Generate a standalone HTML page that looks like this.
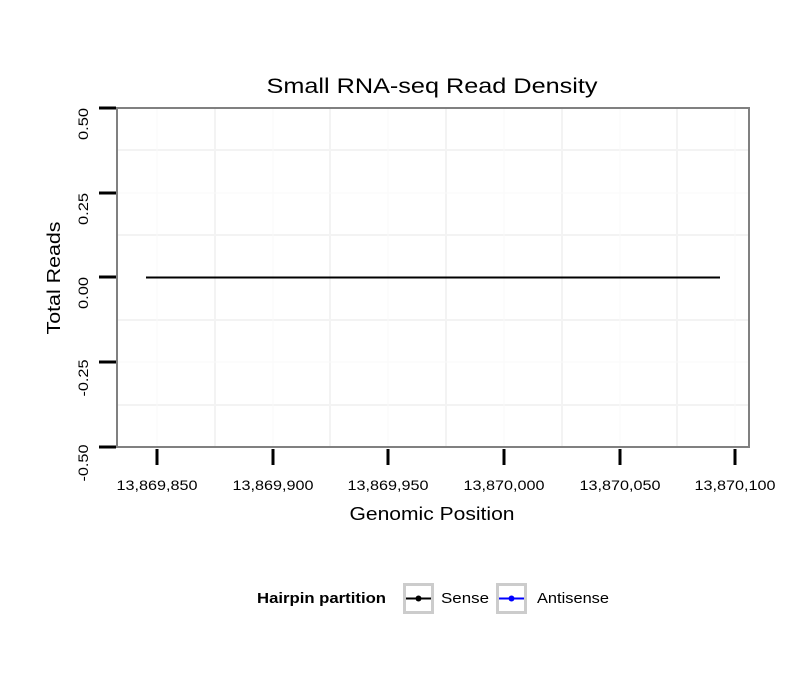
<!DOCTYPE html>
<html><head><style>body{margin:0;background:#fff}</style></head><body>
<svg width="810" height="690" xmlns="http://www.w3.org/2000/svg" font-family="Liberation Sans, sans-serif">
<rect width="810" height="690" fill="#fff"/>
<g stroke="#f3f3f3" stroke-width="2">
<line x1="215" y1="108" x2="215" y2="447"/><line x1="330" y1="108" x2="330" y2="447"/><line x1="446" y1="108" x2="446" y2="447"/><line x1="562" y1="108" x2="562" y2="447"/><line x1="677" y1="108" x2="677" y2="447"/>
<line x1="117" y1="150" x2="749" y2="150"/><line x1="117" y1="235" x2="749" y2="235"/><line x1="117" y1="320" x2="749" y2="320"/><line x1="117" y1="405" x2="749" y2="405"/>
</g>
<g stroke="#fafafa" stroke-width="1">
<line x1="157" y1="108" x2="157" y2="447"/><line x1="273" y1="108" x2="273" y2="447"/><line x1="388" y1="108" x2="388" y2="447"/><line x1="504" y1="108" x2="504" y2="447"/><line x1="620" y1="108" x2="620" y2="447"/><line x1="735" y1="108" x2="735" y2="447"/>
<line x1="117" y1="193" x2="749" y2="193"/><line x1="117" y1="362" x2="749" y2="362"/>
</g>
<line x1="146" y1="277.5" x2="720" y2="277.5" stroke="#0000ff" stroke-width="2"/>
<line x1="146" y1="277.5" x2="720" y2="277.5" stroke="#000" stroke-width="2"/>
<rect x="117" y="108" width="632" height="339" fill="none" stroke="#808080" stroke-width="2"/>
<g stroke="#000" stroke-width="3">
<line x1="99" y1="108" x2="116" y2="108"/><line x1="99" y1="193" x2="116" y2="193"/><line x1="99" y1="277" x2="116" y2="277"/><line x1="99" y1="362" x2="116" y2="362"/><line x1="99" y1="447" x2="116" y2="447"/>
<line x1="157" y1="449" x2="157" y2="465"/><line x1="273" y1="449" x2="273" y2="465"/><line x1="388" y1="449" x2="388" y2="465"/><line x1="504" y1="449" x2="504" y2="465"/><line x1="620" y1="449" x2="620" y2="465"/><line x1="735" y1="449" x2="735" y2="465"/>
</g>
<g font-size="14" fill="#000" text-anchor="middle" lengthAdjust="spacingAndGlyphs">
<text transform="translate(88,124) rotate(-90)" textLength="32" lengthAdjust="spacingAndGlyphs">0.50</text>
<text transform="translate(88,209) rotate(-90)" textLength="32" lengthAdjust="spacingAndGlyphs">0.25</text>
<text transform="translate(88,293) rotate(-90)" textLength="32" lengthAdjust="spacingAndGlyphs">0.00</text>
<text transform="translate(88,378) rotate(-90)" textLength="37" lengthAdjust="spacingAndGlyphs">-0.25</text>
<text transform="translate(88,463) rotate(-90)" textLength="37" lengthAdjust="spacingAndGlyphs">-0.50</text>
<text x="157" y="490" textLength="81" lengthAdjust="spacingAndGlyphs">13,869,850</text><text x="273" y="490" textLength="81" lengthAdjust="spacingAndGlyphs">13,869,900</text><text x="388" y="490" textLength="81" lengthAdjust="spacingAndGlyphs">13,869,950</text><text x="504" y="490" textLength="81" lengthAdjust="spacingAndGlyphs">13,870,000</text><text x="620" y="490" textLength="81" lengthAdjust="spacingAndGlyphs">13,870,050</text><text x="735" y="490" textLength="81" lengthAdjust="spacingAndGlyphs">13,870,100</text>
</g>
<text x="432" y="93" font-size="21" text-anchor="middle" textLength="331" lengthAdjust="spacingAndGlyphs">Small RNA-seq Read Density</text>
<text x="432" y="520" font-size="18" text-anchor="middle" textLength="165" lengthAdjust="spacingAndGlyphs">Genomic Position</text>
<text transform="translate(60,278) rotate(-90)" font-size="18" text-anchor="middle" textLength="113" lengthAdjust="spacingAndGlyphs">Total Reads</text>
<text x="257" y="603" font-size="15" font-weight="bold" textLength="129" lengthAdjust="spacingAndGlyphs">Hairpin partition</text>
<rect x="404.5" y="584.5" width="28" height="28" fill="#fff" stroke="#ccc" stroke-width="3"/>
<line x1="406" y1="598.5" x2="431" y2="598.5" stroke="#000" stroke-width="2"/><circle cx="418.5" cy="598.5" r="3" fill="#000"/>
<text x="441" y="603" font-size="15" textLength="48" lengthAdjust="spacingAndGlyphs">Sense</text>
<rect x="497.5" y="584.5" width="28" height="28" fill="#fff" stroke="#ccc" stroke-width="3"/>
<line x1="499" y1="598.5" x2="524" y2="598.5" stroke="#00f" stroke-width="2"/><circle cx="511.5" cy="598.5" r="3" fill="#00f"/>
<text x="537" y="603" font-size="15" textLength="72" lengthAdjust="spacingAndGlyphs">Antisense</text>
</svg>
</body></html>
